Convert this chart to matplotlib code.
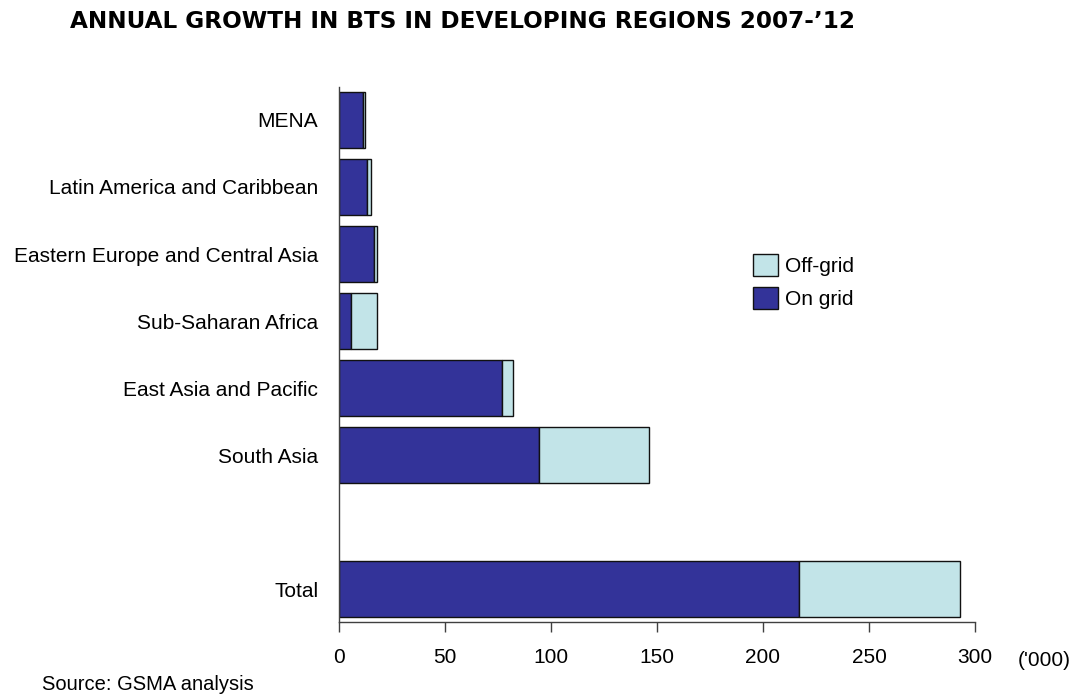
import matplotlib
matplotlib.use("Agg")
import matplotlib.pyplot as plt
from matplotlib.patches import Patch

plt.rcParams['font.family'] = ['Liberation Sans', 'DejaVu Sans']

categories = ["MENA", "Latin America and Caribbean", "Eastern Europe and Central Asia",
              "Sub-Saharan Africa", "East Asia and Pacific", "South Asia", "Total"]
positions = [0, 1, 2, 3, 4, 5, 7]
on_grid = [11.4, 13.0, 16.5, 5.7, 77.0, 94.5, 217.0]
off_grid = [0.7, 2.0, 1.5, 12.3, 5.0, 51.8, 75.7]
xticks = [0, 50, 100, 150, 200, 250, 300]

navy = "#333399"
light = "#C2E4E8"

W, H = 1078, 696
fig = plt.figure(figsize=(W / 100, H / 100), dpi=100)
left_px, right_px, top_px, bot_px = 339, 975, 86.7, 621.7
ax = fig.add_axes([left_px / W, 1 - bot_px / H, (right_px - left_px) / W, (bot_px - top_px) / H])

ax.barh(positions, on_grid, height=0.845, color=navy, edgecolor="#111111", linewidth=1.0)
ax.barh(positions, off_grid, left=on_grid, height=0.845, color=light, edgecolor="#111111", linewidth=1.0)

ax.set_xlim(0, 300)
ax.set_ylim(7.488, -0.497)
ax.set_xticks(xticks)
ax.set_xticklabels([str(t) for t in xticks], fontsize=15)
ax.set_yticks(positions)
ax.set_yticklabels(categories, fontsize=15)
ax.tick_params(axis='y', length=0, pad=15)
ax.tick_params(axis='x', length=7, width=1, color="#404040", pad=12)
for s in ["top", "right"]:
    ax.spines[s].set_visible(False)
for s in ["left", "bottom"]:
    ax.spines[s].set_color("#404040")
    ax.spines[s].set_linewidth(1.0)

handles = [Patch(facecolor=light, edgecolor="#111111", label="Off-grid"),
           Patch(facecolor=navy, edgecolor="#111111", label="On grid")]
fig.legend(handles=handles, loc="upper left", bbox_to_anchor=(745 / W, 1 - 246 / H),
           frameon=False, fontsize=15, handlelength=1.2, handleheight=1.2,
           handletextpad=0.3, labelspacing=0.55, borderaxespad=0)

fig.text(1018 / W, 1 - 660 / H, "('000)", fontsize=15, ha="left", va="center")
fig.text(42 / W, 1 - 685 / H, "Source: GSMA analysis", fontsize=14.5, ha="left", va="center")
fig.text(70 / W, 1 - 21 / H, "ANNUAL GROWTH IN BTS IN DEVELOPING REGIONS 2007-\u201912",
         fontsize=16.7, fontweight="bold", family=["DejaVu Sans"], ha="left", va="center")

fig.savefig("out.png", dpi=100)
